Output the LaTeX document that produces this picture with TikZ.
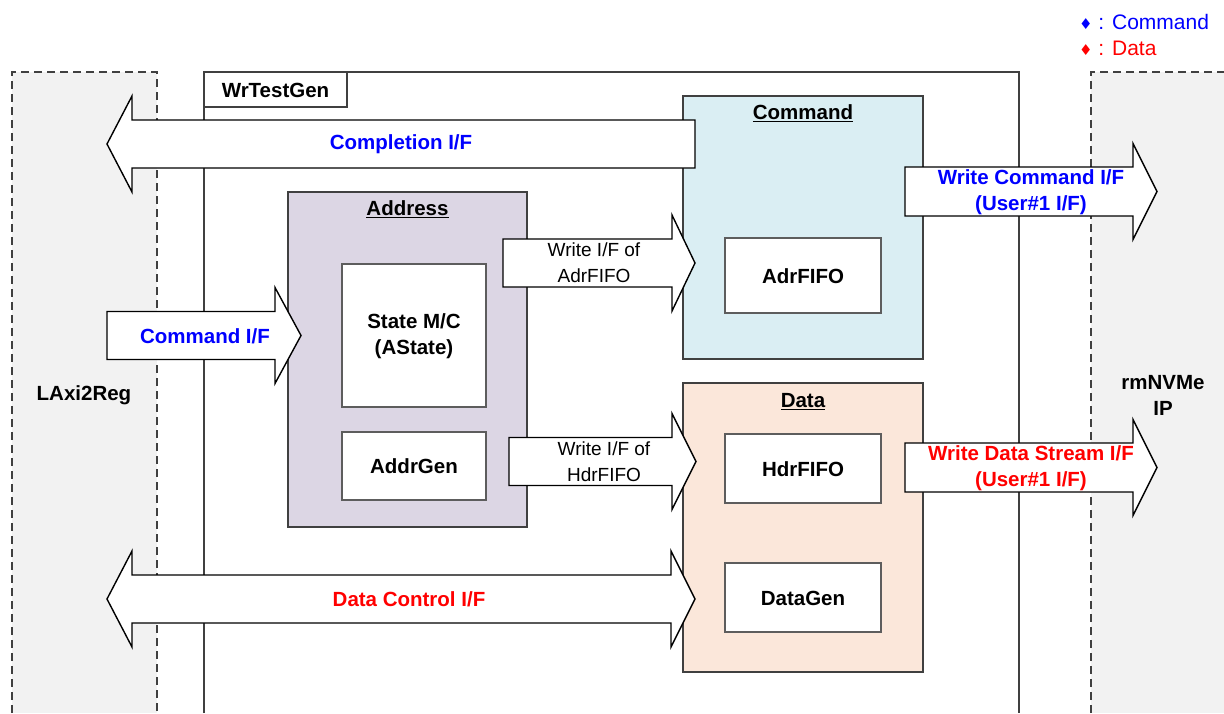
\documentclass[tikz,border=0pt]{standalone}
\usepackage{fontspec}
\setmainfont{Liberation Sans}
\newfontfamily\symfont{DejaVu Sans}
\definecolor{bgray}{HTML}{F2F2F2}
\definecolor{lineg}{HTML}{404040}
\definecolor{addrfill}{HTML}{DCD6E4}
\definecolor{cmdfill}{HTML}{DAEEF3}
\definecolor{datafill}{HTML}{FBE7DA}
\definecolor{cblue}{HTML}{0000FF}
\definecolor{cred}{HTML}{FF0000}
\newcommand\RArrow[6]{%
 \draw[barrow] (#1,#4-#5) -- (#2,#4-#5) -- (#2,#4-#6) -- (#3,#4) -- (#2,#4+#6) -- (#2,#4+#5) -- (#1,#4+#5) -- cycle;}
\begin{document}
\begin{tikzpicture}[x=1pt,y=-1pt,
  lbl/.style={font=\fontsize{19}{26}\selectfont, align=center, inner sep=0pt},
  blbl/.style={lbl, font=\fontsize{20.5}{26}\selectfont\bfseries},
  block/.style={draw=lineg, line width=1.7pt},
  inbox/.style={draw=lineg!85, line width=1.3pt, fill=white},
  barrow/.style={draw=black, fill=white, line width=1.4pt, line join=miter},
  dashb/.style={draw=lineg, line width=2pt, dash pattern=on 8pt off 5pt}]
\useasboundingbox (0,0) rectangle (1224,713);
% background side boxes
\fill[bgray] (12,72) rectangle (157,713);
\draw[dashb] (12,713) -- (12,72) -- (157,72) -- (157,713);
\fill[bgray] (1091,72) rectangle (1224,713);
\draw[dashb] (1091,713) -- (1091,72) -- (1224,72);
% WrTestGen frame
\draw[block] (204,713) -- (204,72) -- (1019,72) -- (1019,713);
\draw[block] (204,72) rectangle (347,107);
\node[blbl] (wrt) at (275.5,90) {WrTestGen};
% Address block
\draw[block, fill=addrfill] (288,192) rectangle (527,527);
\node[blbl] (addrt) at (407.5,209.5) {\underline{Address}};
\draw[inbox] (342,264) rectangle (486,407);
\node[blbl] (sm) at (414,336) {State M/C\\(AState)};
\draw[inbox] (342,432) rectangle (486,500);
\node[blbl] (ag) at (414,466.5) {AddrGen};
% Command block
\draw[block, fill=cmdfill] (683,96) rectangle (923,359);
\node[blbl] (cmdt) at (803,113.5) {\underline{Command}};
\draw[inbox] (725,238) rectangle (881,313);
\node[blbl] (adrf) at (803,276) {AdrFIFO};
% Data block
\draw[block, fill=datafill] (683,383) rectangle (923,672);
\node[blbl] (datat) at (803,401.5) {\underline{Data}};
\draw[inbox] (725,434) rectangle (881,503);
\node[blbl] (hdrf) at (803,469) {HdrFIFO};
\draw[inbox] (725,563) rectangle (881,632);
\node[blbl] (dg) at (803,598) {DataGen};
% side labels
\node[blbl] (lax) at (84,395.5) {LAxi2Reg};
\node[blbl] (rnv) at (1163,395.5) {rmNVMe\\IP};
% arrows
\RArrow{695}{132}{107}{144}{24}{48}
\node[blbl, text=cblue] (compl) at (401,144.5) {Completion I/F};
\RArrow{107}{275}{301}{335.5}{24}{48}
\node[blbl, text=cblue] (cmdif) at (205,336) {Command I/F};
\RArrow{503}{672}{695}{263}{24}{48}
\node[lbl] (wadr) at (594,263) {Write I/F of\\AdrFIFO};
\RArrow{509}{672}{696}{461.5}{24}{48}
\node[lbl] (whdr) at (604,461.5) {Write I/F of\\HdrFIFO};
\RArrow{905}{1133}{1157}{191.5}{24.5}{48}
\node[blbl, text=cblue] (wcmd) at (1031,192) {Write Command I/F\\(User\#1 I/F)};
\RArrow{905}{1133}{1157}{467.5}{24.5}{48}
\node[blbl, text=cred] (wdat) at (1031,468) {Write Data Stream I/F\\(User\#1 I/F)};
\draw[barrow] (132,575) -- (671,575) -- (671,551) -- (695,599) -- (671,647) -- (671,623)
  -- (132,623) -- (132,647) -- (107,599) -- (132,551) -- cycle;
\node[blbl, text=cred] (dctl) at (409,599.5) {Data Control I/F};
% legend
\node[lbl, anchor=west, text=cblue, font=\fontsize{21}{24}\selectfont] (legc) at (1079,22) {{\symfont\fontsize{15}{16}\selectfont ♦} : Command};
\node[lbl, anchor=west, text=cred, font=\fontsize{21}{24}\selectfont] (legd) at (1079,48) {{\symfont\fontsize{15}{16}\selectfont ♦} : Data};
\end{tikzpicture}
\end{document}
